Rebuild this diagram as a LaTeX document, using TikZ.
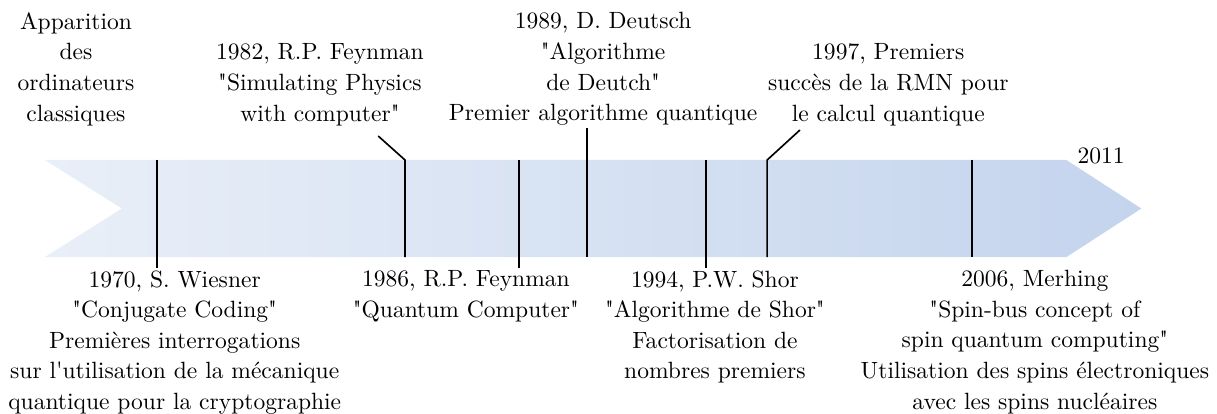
\documentclass[tikz,border=0pt]{standalone}
\usetikzlibrary{positioning}

\definecolor{bandleft}{RGB}{233,239,248}
\definecolor{bandright}{RGB}{196,212,237}

\begin{document}
\begin{tikzpicture}[
  event/.style={align=center, inner sep=1pt},
  milestone/.style={line width=0.7pt},
  every node/.style={font=\fontsize{10}{13}\selectfont}
]
\useasboundingbox (0,-3.055) rectangle (18.18,3.115);

% Time band
\shade[left color=bandleft, right color=bandright]
  (0.67,0.725) -- (15.93,0.725) -- (17.05,0) -- (15.93,-0.725)
  -- (0.67,-0.725) -- (1.82,0) -- cycle;

% Points on the band
\foreach \x/\n in {2.35/1970, 6.05/1982, 7.75/1986, 8.77/1989, 10.55/1994, 11.46/1997, 14.52/2006} {
  \coordinate (u\n) at (\x,0.725);
  \coordinate (l\n) at (\x,-0.725);
}
\coordinate (k1982) at (5.65,1.083);
\coordinate (k1997) at (11.95,1.173);

% Events above
\node[event, anchor=south] (eclass) at (1.135,1.197)
  {Apparition\\ des\\ ordinateurs\\ classiques};
\node[event, anchor=south] (e1982) at (4.78,1.197)
  {1982, R.P. Feynman\\ \textquotedbl Simulating Physics\\ with computer\textquotedbl};
\node[event, anchor=south] (e1989) at (9.01,1.197)
  {1989, D. Deutsch\\ \textquotedbl Algorithme\\ de Deutch\textquotedbl\\ Premier algorithme quantique};
\node[event, anchor=south] (e1997) at (13.27,1.197)
  {1997, Premiers\\ succès de la RMN pour\\ le calcul quantique};
\node[anchor=base] (e2011) at (16.45,0.672) {2011};

% Events below
\node[event, anchor=north] (e1970) at (2.61,-0.883)
  {1970, S. Wiesner\\ \textquotedbl Conjugate Coding\textquotedbl\\ Premières interrogations\\
   sur l\textquotesingle utilisation de la mécanique\\ quantique pour la cryptographie};
\node[event, anchor=north] (e1986) at (6.96,-0.883)
  {1986, R.P. Feynman\\ \textquotedbl Quantum Computer\textquotedbl};
\node[event, anchor=north] (e1994) at (10.68,-0.883)
  {1994, P.W. Shor\\ \textquotedbl Algorithme de Shor\textquotedbl\\ Factorisation de\\ nombres premiers};
\node[event, anchor=north] (e2006) at (15.46,-0.883)
  {2006, Merhing\\ \textquotedbl Spin-bus concept of\\ spin quantum computing\textquotedbl\\
   Utilisation des spins électroniques\\ avec les spins nucléaires};

% Markers
\draw[milestone] (u1970) -- (u1970 |- e1970.north);
\draw[milestone] (k1982) -- (u1982) -- (l1982);
\draw[milestone] (u1986) -- (u1986 |- e1986.north);
\draw[milestone] (l1989 |- e1989.south) -- (l1989);
\draw[milestone] (u1994) -- (u1994 |- e1994.north);
\draw[milestone] (k1997) -- (u1997) -- (l1997);
\draw[milestone] (u2006) -- (l2006);

\end{tikzpicture}
\end{document}
